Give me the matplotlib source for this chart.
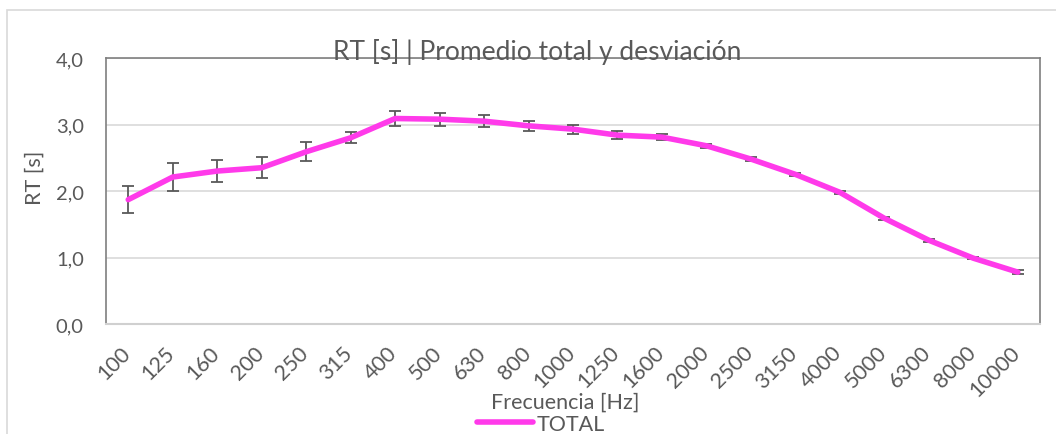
import matplotlib
matplotlib.use("Agg")
import matplotlib.pyplot as plt
import matplotlib.transforms as mtrans
from matplotlib.patches import Rectangle
import numpy as np

freqs = ["100", "125", "160", "200", "250", "315", "400", "500", "630", "800", "1000",
         "1250", "1600", "2000", "2500", "3150", "4000", "5000", "6300", "8000", "10000"]
rt_mean = [1.87, 2.21, 2.30, 2.35, 2.59, 2.80, 3.09, 3.08, 3.05, 2.98, 2.93,
           2.84, 2.81, 2.68, 2.48, 2.25, 1.98, 1.59, 1.26, 0.99, 0.78]
rt_sd = [0.20, 0.21, 0.17, 0.16, 0.14, 0.08, 0.12, 0.10, 0.09, 0.08, 0.07,
         0.06, 0.05, 0.03, 0.03, 0.02, 0.02, 0.02, 0.02, 0.02, 0.03]
y_ticks = [0.0, 1.0, 2.0, 3.0, 4.0]

plt.rcParams['font.family'] = ['Lato', 'DejaVu Sans']
TXT = '#595959'
W, H = 1056, 435
fig = plt.figure(figsize=(W/100, H/100), dpi=100)
ax = fig.add_axes([106/W, 1-325/H, (1040-106)/W, (325-59)/H])

x = np.arange(len(freqs))
ax.errorbar(x, rt_mean, yerr=rt_sd, fmt='none', ecolor='#595959', elinewidth=1.3,
            capsize=4.5, capthick=1.3, zorder=3)
ln, = ax.plot(x, rt_mean, color='#FF3AEA', lw=4.0, solid_capstyle='round',
              solid_joinstyle='round', zorder=4, label='TOTAL')

ax.set_xlim(-0.5, len(freqs)-0.5)
ax.set_ylim(0, 4)
ax.set_yticks(y_ticks)
ax.set_yticklabels([f"{v:.1f}".replace('.', ',') for v in y_ticks])
ax.set_xticks(x)
ax.set_xticklabels(freqs, rotation=45, ha='right', va='top', rotation_mode='anchor')
ax.tick_params(axis='y', length=0, colors=TXT, labelsize=14.5, pad=16)
ax.tick_params(axis='x', length=0, colors=TXT, labelsize=15.5, pad=13)
off = mtrans.ScaledTranslation(-8/100, 0, fig.dpi_scale_trans)
for lab in ax.get_xticklabels():
    lab.set_transform(lab.get_transform() + off)
ax.grid(axis='y', color='#D9D9D9', lw=1.2)
ax.set_axisbelow(True)
for s in ['left', 'top', 'right']:
    ax.spines[s].set_color('#7F7F7F')
    ax.spines[s].set_linewidth(1.2)
ax.spines['bottom'].set_color('#D0D0D0')
ax.spines['bottom'].set_linewidth(1.5)

fig.text(537/W, 1-60/H, "RT [s] | Promedio total y desviación", ha='center', va='baseline',
         fontsize=19, color=TXT)
fig.text(35/W, 1-178/H, "RT [s]", rotation=90, ha='center', va='center', fontsize=15.5, color=TXT)
fig.text(565/W, 1-403/H, "Frecuencia [Hz]", ha='center', va='center', fontsize=15.5, color=TXT)

leg = fig.legend(handles=[ln], loc='center', bbox_to_anchor=(541/W, 1-425/H), frameon=False,
                 fontsize=15.5, handlelength=2.6, handletextpad=0.2, borderpad=0)
for t in leg.get_texts():
    t.set_color(TXT)

fig.patches.append(Rectangle((7/W, -0.05), 1.1, 1-11/H+0.05, transform=fig.transFigure,
                             fill=False, edgecolor='#D9D9D9', lw=1.2))

fig.savefig("out.png", dpi=100)
